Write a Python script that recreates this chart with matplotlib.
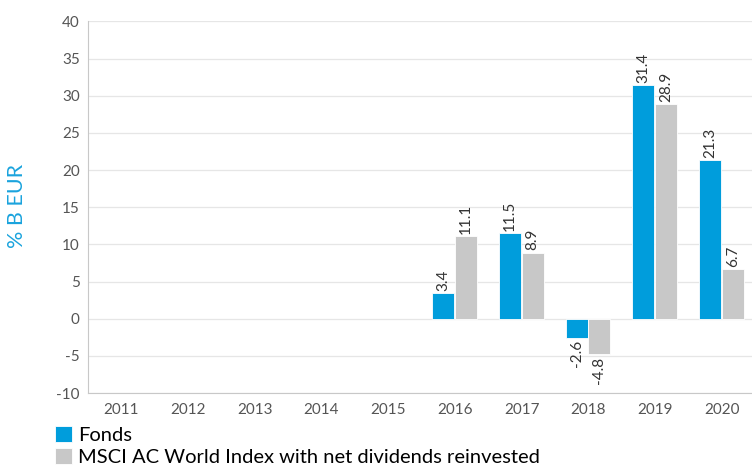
import numpy as np
import matplotlib.pyplot as plt

plt.rcParams['font.family'] = ['Lato', 'DejaVu Sans']
plt.rcParams['axes.unicode_minus'] = False

years = ['2011', '2012', '2013', '2014', '2015', '2016', '2017', '2018', '2019', '2020']
fonds = [np.nan, np.nan, np.nan, np.nan, np.nan, 3.4, 11.5, -2.6, 31.4, 21.3]
msci = [np.nan, np.nan, np.nan, np.nan, np.nan, 11.1, 8.9, -4.8, 28.9, 6.7]
labels = ['Fonds', 'MSCI AC World Index with net dividends reinvested']

blue = '#009ddc'
grey = '#c8c8c8'

fig = plt.figure(figsize=(7.52, 4.73), dpi=100)
ax = fig.add_axes([88/752, 80/473, 667/752, 371.5/473])

x = np.arange(len(years))
w = 0.33
b1 = ax.bar(x - w/2 - 0.01, fonds, w, color=blue, edgecolor='white', linewidth=0.6, label=labels[0])
b2 = ax.bar(x + w/2, msci, w, color=grey, edgecolor='white', linewidth=0.6, label=labels[1])

for bars, vals in ((b1, fonds), (b2, msci)):
    for rect, v in zip(bars, vals):
        if np.isnan(v):
            continue
        cx = rect.get_x() + rect.get_width()/2
        if v >= 0:
            ax.annotate(f'{v:.1f}', (cx, v), xytext=(0, 1.5), textcoords='offset points',
                        rotation=90, ha='center', va='bottom', fontsize=11, color='#333333')
        else:
            ax.annotate(f'{v:.1f}', (cx, v), xytext=(0, -1.5), textcoords='offset points',
                        rotation=90, ha='center', va='top', fontsize=11, color='#333333')

ax.set_xlim(-0.5, 9.5)
ax.set_ylim(-10, 40)
ax.set_yticks(np.arange(-10, 41, 5))
ax.set_xticks(x)
ax.set_xticklabels(years)
ax.yaxis.grid(True, color='#e6e6e6', linewidth=0.9)
ax.set_axisbelow(True)
for s in ['top', 'right']:
    ax.spines[s].set_visible(False)
ax.spines['left'].set_color('#c8c8c8')
ax.spines['bottom'].set_color('#c8c8c8')
ax.tick_params(axis='both', length=0, labelsize=11, colors='#555555')
ax.tick_params(axis='x', pad=7)
ax.tick_params(axis='y', pad=6)

fig.text(17/752, 1 - 206/473, '% B EUR', rotation=90, color='#1aa3dd', fontsize=15.5,
         ha='center', va='center')

fig.legend(handles=[b1, b2], labels=labels, loc='upper left', bbox_to_anchor=(55/752, 1 - 426/473),
           frameon=False, fontsize=14.5, handlelength=0.85, handleheight=0.85, handletextpad=0.3,
           labelspacing=0.2, borderaxespad=0, borderpad=0)

fig.savefig('out.png', dpi=100)
